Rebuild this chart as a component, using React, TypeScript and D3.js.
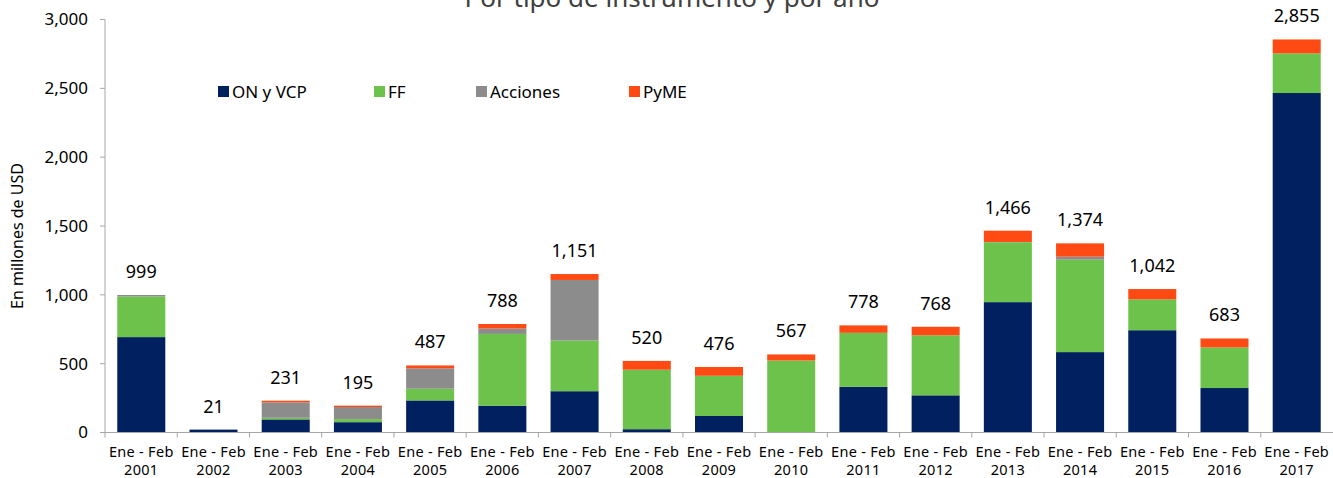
import React from "react";
import * as d3 from "d3";

const years = ["2001","2002","2003","2004","2005","2006","2007","2008","2009","2010","2011","2012","2013","2014","2015","2016","2017"];
const onVcp = [693, 21, 95, 75, 233, 194, 300, 24, 120, 0, 332, 270, 947, 584, 743, 323, 2466];
const ff = [295, 0, 12, 22, 85, 522, 368, 432, 292, 523, 392, 436, 435, 671, 224, 295, 288];
const acciones = [11, 0, 112, 88, 148, 39, 440, 0, 0, 0, 0, 0, 2, 22, 0, 0, 0];
const pyme = [0, 0, 12, 10, 21, 33, 43, 64, 64, 44, 54, 62, 82, 97, 75, 65, 101];
const totals = [999, 21, 231, 195, 487, 788, 1151, 520, 476, 567, 778, 768, 1466, 1374, 1042, 683, 2855];
const yTicks = [0, 500, 1000, 1500, 2000, 2500, 3000];
const seriesNames = ["ON y VCP", "FF", "Acciones", "PyME"];
const seriesColors = ["#002060", "#6DC24B", "#8C8C8C", "#FF4A14"];

const W = 1333, H = 478;
const left = 105, right = 1333, top = 19.5, bottom = 432.5;
const font = "'Noto Sans', 'Open Sans', sans-serif";

export default function App() {
  const x = d3.scaleBand<string>().domain(years).range([left, right]).paddingInner(0.335).paddingOuter(0.17);
  const y = d3.scaleLinear().domain([0, 3000]).range([bottom, top]);
  const rows = years.map((yr, i) => ({ year: yr, s0: onVcp[i], s1: ff[i], s2: acciones[i], s3: pyme[i] }));
  const stack = d3.stack<any>().keys(["s0", "s1", "s2", "s3"]);
  const series = stack(rows);
  const step = (right - left) / years.length;
  const legendX = [218, 374, 476, 629];

  return (
    <svg width={W} height={H} style={{ position: "absolute", left: 0, top: 0, background: "#fff" }}>
      <text x={672} y={7} textAnchor="middle" fontFamily={font} fontSize={26} fill="#404040">Por tipo de instrumento y por año</text>
      {/* y axis */}
      <line x1={left} x2={left} y1={y(3000)} y2={bottom} stroke="#A6A6A6" />
      {yTicks.map((t) => (
        <g key={t}>
          <line x1={left - 5} x2={left} y1={y(t)} y2={y(t)} stroke="#A6A6A6" />
          <text x={88} y={y(t)} dy="0.35em" textAnchor="end" fontFamily={font} fontSize={17} fill="#000">{d3.format(",")(t)}</text>
        </g>
      ))}
      <text transform={`translate(23,${(top + bottom) / 2 + 10}) rotate(-90)`} textAnchor="middle" fontFamily={font} fontSize={16} fill="#000">En millones de USD</text>
      {/* bars */}
      {series.map((s, si) => (
        <g key={si} fill={seriesColors[si]}>
          {s.map((d, i) => {
            const h = y(d[0]) - y(d[1]);
            if (h <= 0) return null;
            return <rect key={i} x={x(years[i])} width={x.bandwidth()} y={y(d[1])} height={h} />;
          })}
        </g>
      ))}
      {/* x axis */}
      <line x1={left} x2={right} y1={bottom} y2={bottom} stroke="#A6A6A6" />
      {years.map((yr, i) => (
        <g key={yr}>
          <line x1={left + step * i} x2={left + step * i} y1={bottom} y2={bottom + 5} stroke="#A6A6A6" />
          <text x={(x(yr) as number) + x.bandwidth() / 2} y={457} textAnchor="middle" fontFamily={font} fontSize={14.5} letterSpacing={0.3} fill="#000">Ene - Feb</text>
          <text x={(x(yr) as number) + x.bandwidth() / 2} y={475} textAnchor="middle" fontFamily={font} fontSize={14.5} letterSpacing={0.3} fill="#000">{yr}</text>
          <text x={(x(yr) as number) + x.bandwidth() / 2} y={y(totals[i]) - 17} textAnchor="middle" fontFamily={font} fontSize={18} fill="#000">{d3.format(",")(totals[i])}</text>
        </g>
      ))}
      {/* legend */}
      {seriesNames.map((n, i) => (
        <g key={n}>
          <rect x={legendX[i]} y={86} width={11} height={11} fill={seriesColors[i]} />
          <text x={legendX[i] + 14} y={98} fontFamily={font} fontSize={17} fill="#000">{n}</text>
        </g>
      ))}
    </svg>
  );
}
